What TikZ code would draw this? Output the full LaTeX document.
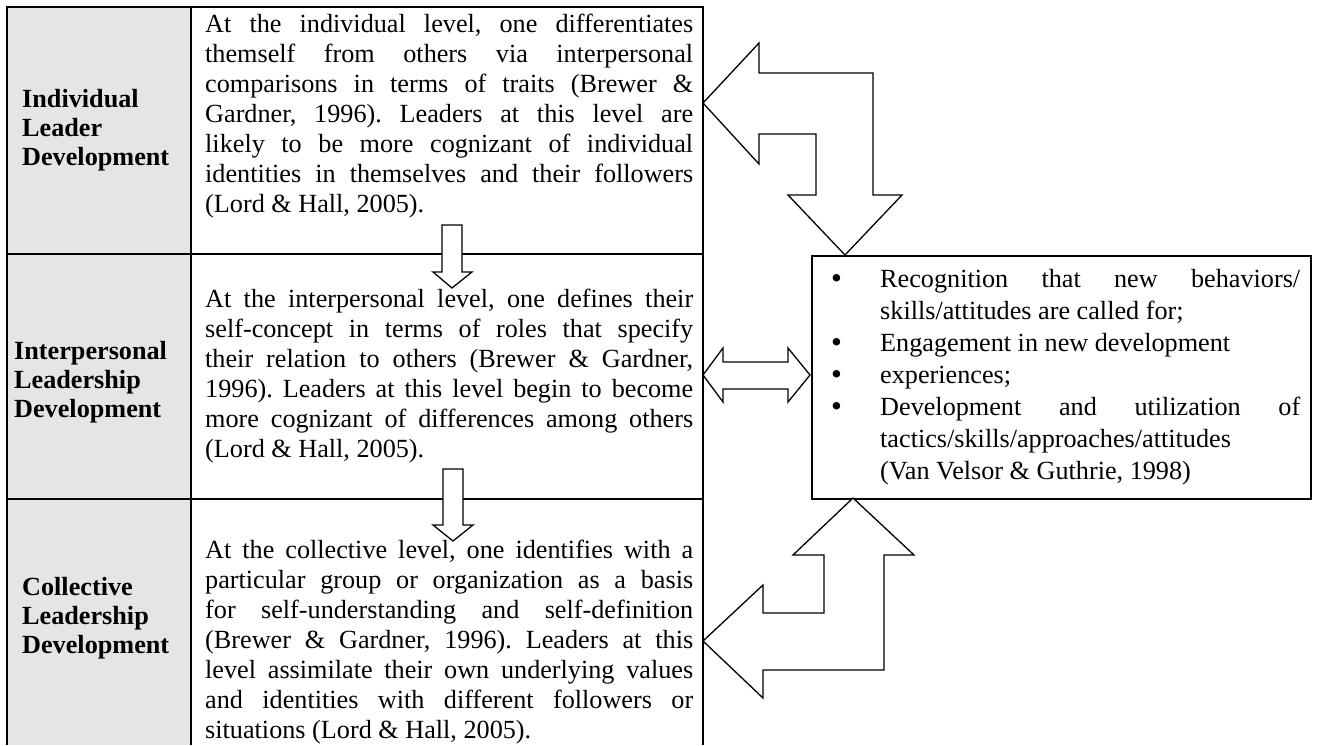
\documentclass[tikz,border=0pt]{standalone}
\usepackage{fontspec}
\setmainfont{Liberation Serif}
\newcommand\spreset{\spaceskip=0pt\xspaceskip=0pt\frenchspacing}
\newcommand\jfill[2]{\leavevmode\hbox to #1{\spaceskip=.25em plus 1fil\xspaceskip=.25em plus 1fil\relax #2}}
\newcommand\jline[1]{\jfill{488pt}{#1}\\}
\newcommand\bul{\makebox[50pt][l]{\hspace*{1pt}\smash{\raisebox{-1.5pt}{\fontsize{31}{30}\selectfont •}}}}
\begin{document}
\begin{tikzpicture}[x=1pt,y=-1pt,
  rulew/.style={line width=2pt},
  labelcell/.style={anchor=west, inner sep=0pt, text width=185pt, align=left,
    font=\fontsize{26.2}{29}\selectfont\bfseries},
  bodycell/.style={anchor=base west, inner sep=0pt, text width=488pt, align=left,
    font=\fontsize{26.2}{30}\selectfont},
  listtext/.style={anchor=base west, inner sep=0pt, text width=475pt, align=left,
    font=\fontsize{26.2}{32}\selectfont},
  blockarrow/.style={draw, fill=white, line width=1.3pt, line join=miter},
  outbox/.style={draw, line width=1.5pt, fill=white, inner sep=0pt}
]
\useasboundingbox (0,0) rectangle (1317,745);

% table
\fill[gray!20] (7,7) rectangle (191,745);
\draw[rulew] (7,745) -- (7,7) -- (703,7) -- (703,745);
\draw[rulew] (191,7) -- (191,745);
\draw[rulew] (7,254) -- (703,254);
\draw[rulew] (7,499) -- (703,499);

% labels
\node[labelcell] (l1) at (22,130) {\spreset Individual\\Leader\\Development};
\node[labelcell] (l2) at (14,382) {\spreset Interpersonal\\Leadership\\Development};
\node[labelcell] (l3) at (22,618) {\spreset Collective\\Leadership\\Development};

% body texts
\node[bodycell] (t1) at (205,32) {\spreset
\jline{At the individual level, one differentiates}%
\jline{themself from others via interpersonal}%
\jline{comparisons in terms of traits (Brewer \&}%
\jline{Gardner, 1996). Leaders at this level are}%
\jline{likely to be more cognizant of individual}%
\jline{identities in themselves and their followers}%
(Lord \& Hall, 2005).};

\node[bodycell] (t2) at (205,307) {\spreset
\jline{At the interpersonal level, one defines their}%
\jline{self-concept in terms of roles that specify}%
\jline{their relation to others (Brewer \& Gardner,}%
\jline{1996). Leaders at this level begin to become}%
\jline{more cognizant of differences among others}%
(Lord \& Hall, 2005).};

\node[bodycell] (t3) at (205,558) {\spreset
\jline{At the collective level, one identifies with a}%
\jline{particular group or organization as a basis}%
\jline{for self-understanding and self-definition}%
\jline{(Brewer \& Gardner, 1996). Leaders at this}%
\jline{level assimilate their own underlying values}%
\jline{and identities with different followers or}%
situations (Lord \& Hall, 2005).};

% right box
\node[outbox, minimum width=499pt, minimum height=243pt, anchor=north west] (box) at (811,255) {};
\node[listtext] (list) at (830,287) {\spreset
\bul\jfill{420pt}{Recognition that new behaviors/}\\
\hspace*{50pt}skills/attitudes are called for;\\
\bul Engagement in new development\\
\bul experiences;\\
\bul\jfill{420pt}{Development and utilization of}\\
\hspace*{50pt}tactics/skills/approaches/attitudes\\
\hspace*{50pt}(Van Velsor \& Guthrie, 1998)};

% small down arrows
\draw[blockarrow] (442,225) -- (462,225) -- (462,272) -- (472,272) -- (452,288)
  -- (433,272) -- (442,272) -- cycle;
\draw[blockarrow] (443,469) -- (463,469) -- (463,525) -- (473,525) -- (453,541)
  -- (433,525) -- (443,525) -- cycle;

% upper bent arrow (table <-> box)
\coordinate (uptip) at (703,103);
\coordinate (downtip) at (845,255);
\draw[blockarrow] (uptip) -- (759,43) -- (759,73) -- (873,73) -- (873,195) -- (902,195)
  -- (downtip) -- (788,195) -- (816,195) -- (816,134) -- (759,134) -- (759,164) -- cycle;

% middle double arrow
\coordinate (midl) at (703,375);
\coordinate (midr) at (810,375);
\draw[blockarrow] (midl) -- (723,348) -- (723,362) -- (788,362) -- (788,348) -- (midr)
  -- (788,402) -- (788,389) -- (723,389) -- (723,402) -- cycle;

% lower bent arrow
\coordinate (lowtip) at (703,641);
\coordinate (uptip2) at (853,498);
\draw[blockarrow] (lowtip) -- (763,585) -- (763,613) -- (824,613) -- (824,555) -- (793,555)
  -- (uptip2) -- (914,555) -- (884,555) -- (884,670) -- (763,670) -- (763,698) -- cycle;
\end{tikzpicture}
\end{document}
